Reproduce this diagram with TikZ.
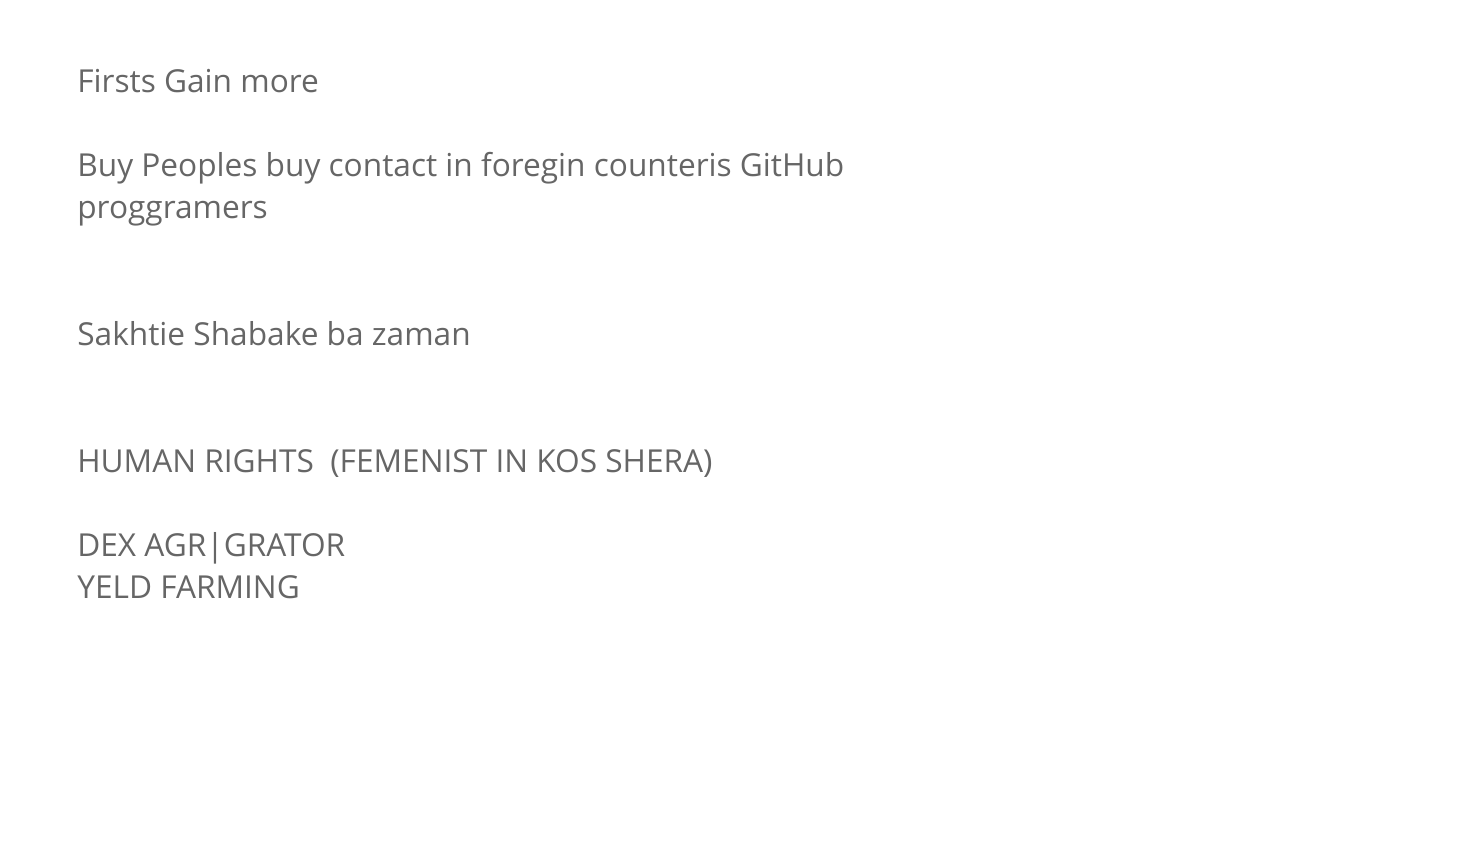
\documentclass[tikz,border=0pt]{standalone}
\usepackage{fontspec}
\setmainfont{Open Sans}[Ligatures=NoCommon]
\usepackage{xcolor}
\definecolor{slidegrey}{HTML}{666666}
\tikzset{slidetext/.style={anchor=base west,inner sep=0pt,text=slidegrey,font=\fontsize{18}{22}\selectfont}}

\begin{document}
\begin{tikzpicture}[x=0.02cm,y=-0.02cm]
        \useasboundingbox[fill=white] (0,0) rectangle (1462,844);
        \node[slidetext] (firsts) at (77,93) {Firsts Gain more};
        \node[slidetext] (buy) at (77,177) {Buy Peoples buy contact in foregin counteris GitHub};
        \node[slidetext] (proggramers) at (77,219) {proggramers};
        \node[slidetext] (sakhtie) at (77,345) {Sakhtie Shabake ba zaman};
        \node[slidetext] (rights) at (77,472) {HUMAN RIGHTS\ \ (FEMENIST IN KOS SHERA)};
        \node[slidetext] (dex) at (77,556) {DEX AGR|GRATOR};
        \node[slidetext] (yeld) at (77,598) {YELD FARMING};
    \end{tikzpicture}
\end{document}
